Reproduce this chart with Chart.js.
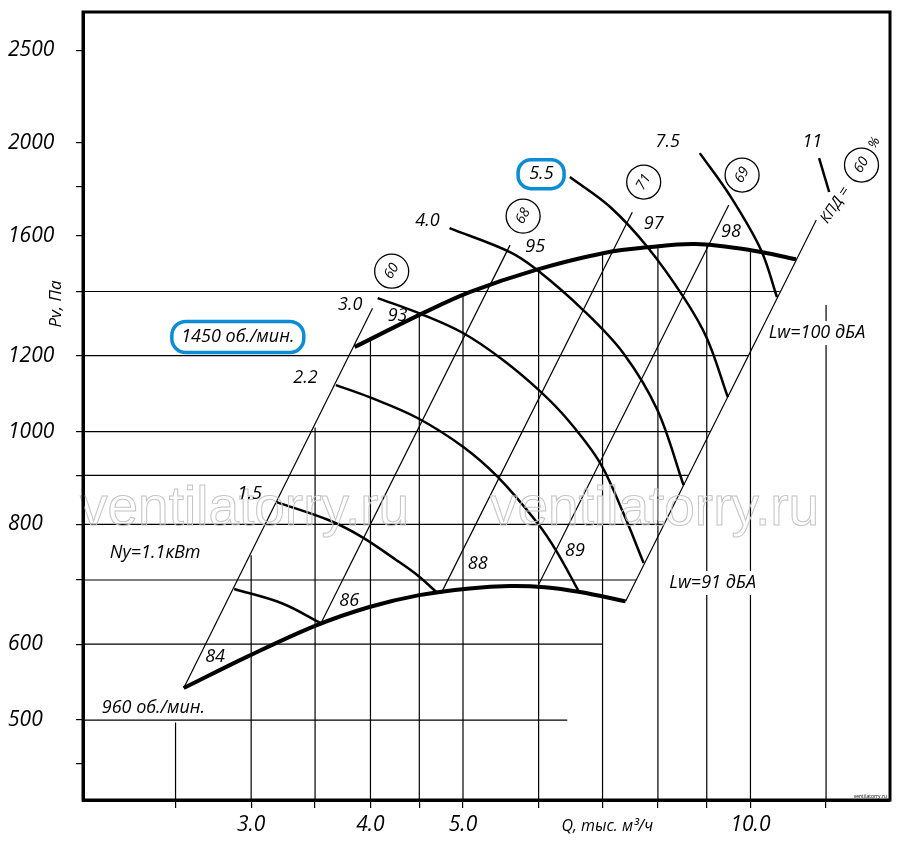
<!DOCTYPE html>
<html>
<head>
<meta charset="utf-8">
<title>Fan curve</title>
<script src="https://cdn.jsdelivr.net/npm/chart.js@4.4.0/dist/chart.umd.min.js"></script>
<style>
  html, body { margin: 0; padding: 0; background: #fff; }
  #wrap { width: 900px; height: 856px; }
</style>
</head>
<body>
<div id="wrap"><canvas id="fan-chart" width="900" height="856"></canvas></div>
<script>
// axes (Q thousand m3/h, Pv Pa), both logarithmic
const Q_MIN = 2;
const Q_MAX = 14;
const P_MIN = 412.6;
const P_MAX = 2740;

const xTicks = [2.5, 3, 3.5, 4, 4.5, 5, 6, 7, 8, 9, 10, 12];
const xTickLabels = ["", "3.0", "", "4.0", "", "5.0", "", "", "", "", "10.0", ""];
const yTicks = [450, 500, 600, 700, 800, 900, 1000, 1200, 1400, 1600, 1800, 2000, 2500];
const yTickLabels = ["", "500", "600", "", "800", "", "1000", "1200", "", "1600", "", "2000", "2500"];

// partial grid: horizontal lines end on the right boundary line
const gridP = [500, 600, 700, 800, 900, 1000, 1200, 1400];
const gridPEndQ = [6.43, 7.0, 7.59, 8.11, 8.6, 9.07, 9.94, 10.73];
// vertical lines run from the bottom up to the 1450 rpm curve
const gridQ = [2.5, 3, 3.5, 4, 4.5, 5, 6, 7, 8, 9, 10, 12];
const gridQTopP = [497, 743, 1010, 1250, 1331, 1388, 1474, 1530, 1558, 1567, 1546, 1355];

// speed curves
const q960 = [2.55, 2.98, 3.5, 3.99, 4.5, 5.08, 5.6, 6.09, 6.63, 7.4];
const p960 = [540, 583, 627, 656, 675, 686, 690, 688, 680, 665];
const q1450 = [3.85, 4.54, 5.08, 5.95, 7.01, 7.86, 8.76, 10.01, 11.16];
const p1450 = [1225, 1329, 1398, 1474, 1535, 1558, 1569, 1546, 1513];

// motor power curves, kW
const qN11 = [2.88, 3.23, 3.55];
const pN11 = [685, 662, 631];
const qN15 = [3.19, 3.62, 3.92, 4.26, 4.48, 4.69];
const pN15 = [844, 808, 776, 734, 708, 680];
const qN22 = [3.68, 3.99, 4.48, 5.0, 5.44, 5.98, 6.27, 6.6];
const pN22 = [1118, 1086, 1033, 964, 896, 803, 749, 683];
const qN30 = [4.07, 4.52, 5.0, 5.51, 6.02, 6.44, 6.96, 7.36, 7.73];
const pN30 = [1378, 1326, 1267, 1187, 1102, 1028, 927, 822, 729];
const qN40 = [4.84, 5.6, 5.98, 6.68, 7.36, 7.99, 8.51];
const pN40 = [1630, 1539, 1474, 1339, 1207, 1053, 879];
const qN55 = [6.47, 7.13, 7.8, 8.51, 9.0, 9.47];
const pN55 = [1843, 1715, 1558, 1381, 1252, 1086];
const qN75 = [8.85, 9.54, 10.26, 10.66];
const pN75 = [1952, 1756, 1546, 1381];
const qN110 = [11.8, 12.09];
const pN110 = [1929, 1778];

// proportional (P ~ Q^2) lines: low end, high end
const diagQLow = [2.55, 3.55, 4.74, 5.99, 7.4];
const diagPLow = [540, 631, 677, 690, 665];
const diagQHigh = [4.02, 5.6, 7.52, 9.49, 11.72];
const diagPHigh = [1345, 1565, 1694, 1723, 1662];

// labels
const powerLabels = ["1.5", "2.2", "3.0", "4.0", "5.5", "7.5", "11"];
const powerLabelQ = [2.99, 3.42, 3.81, 4.59, 6.04, 8.19, 11.61];
const powerLabelP = [860, 1137, 1355, 1658, 1856, 2005, 2005];
const noiseLabels = ["84", "86", "88", "89", "93", "95", "97", "98"];
const noiseLabelQ = [2.75, 3.8, 5.18, 6.55, 4.27, 5.95, 7.92, 9.54];
const noiseLabelP = [582, 665, 727, 751, 1320, 1558, 1646, 1615];
const effLabels = ["60", "68", "71", "69", "60"];
const effLabelQ = [4.21, 5.78, 7.73, 9.8, 13.07];
const effLabelP = [1470, 1678, 1821, 1852, 1897];

const FONT = "'Open Sans', 'DejaVu Sans', sans-serif";
const BLUE = "#0b8cd6";

const lineSet = (qs, ps, width, smooth) => ({
  data: qs.map((q, i) => ({ x: q, y: ps[i] })),
  showLine: true,
  borderColor: "#000",
  borderWidth: width,
  pointRadius: 0,
  fill: false,
  tension: smooth ? 0.35 : 0,
});

const datasets = [
  lineSet(q960, p960, 4, true),
  lineSet(q1450, p1450, 4, true),
  lineSet(qN11, pN11, 2.5, true),
  lineSet(qN15, pN15, 2.5, true),
  lineSet(qN22, pN22, 2.5, true),
  lineSet(qN30, pN30, 2.5, true),
  lineSet(qN40, pN40, 2.5, true),
  lineSet(qN55, pN55, 2.5, true),
  lineSet(qN75, pN75, 2.5, true),
  lineSet(qN110, pN110, 2.5, false),
];
diagQLow.forEach((q, i) => {
  datasets.push(lineSet([q, diagQHigh[i]], [diagPLow[i], diagPHigh[i]], 1.2, false));
});
gridP.forEach((p, i) => {
  datasets.push(lineSet([Q_MIN, gridPEndQ[i]], [p, p], 1.2, false));
});
gridQ.forEach((q, i) => {
  datasets.push(lineSet([q, q], [P_MIN, gridQTopP[i]], 1.2, false));
});

function roundBox(ctx, cx, cy, w, h, r) {
  const x = cx - w / 2;
  const y = cy - h / 2;
  ctx.beginPath();
  ctx.moveTo(x + r, y);
  ctx.lineTo(x + w - r, y);
  ctx.arc(x + w - r, y + r, r, -Math.PI / 2, 0);
  ctx.lineTo(x + w, y + h - r);
  ctx.arc(x + w - r, y + h - r, r, 0, Math.PI / 2);
  ctx.lineTo(x + r, y + h);
  ctx.arc(x + r, y + h - r, r, Math.PI / 2, Math.PI);
  ctx.lineTo(x, y + r);
  ctx.arc(x + r, y + r, r, Math.PI, Math.PI * 1.5);
  ctx.closePath();
}

function drawText(ctx, str, x, y, size, angle) {
  ctx.save();
  ctx.translate(x, y);
  if (angle) ctx.rotate(angle);
  ctx.font = "italic " + size + "px " + FONT;
  ctx.textAlign = "center";
  ctx.textBaseline = "middle";
  ctx.fillStyle = "#000";
  ctx.fillText(str, 0, 0);
  ctx.restore();
}

const decorPlugin = {
  id: "fanDecor",
  afterDatasetsDraw(chart) {
    const { ctx, chartArea: area, scales } = chart;
    const px = (q) => scales.x.getPixelForValue(q);
    const py = (p) => scales.y.getPixelForValue(p);
    const rot = (-60 * Math.PI) / 180;

    // watermark
    ctx.save();
    ctx.font = "55px 'Liberation Sans', Arial, sans-serif";
    ctx.strokeStyle = "#c4c4c4";
    ctx.lineWidth = 1;
    ctx.textBaseline = "alphabetic";
    ctx.strokeText("ventilatorry.ru", area.left - 3, 525);
    ctx.strokeText("ventilatorry.ru", 490, 525);
    ctx.restore();

    powerLabels.forEach((t, i) => drawText(ctx, t, px(powerLabelQ[i]), py(powerLabelP[i]), 18));
    noiseLabels.forEach((t, i) => drawText(ctx, t, px(noiseLabelQ[i]), py(noiseLabelP[i]), 18));

    // efficiency circles
    effLabels.forEach((t, i) => {
      const cx = px(effLabelQ[i]);
      const cy = py(effLabelP[i]);
      ctx.beginPath();
      ctx.arc(cx, cy, 17, 0, Math.PI * 2);
      ctx.fillStyle = "#fff";
      ctx.fill();
      ctx.lineWidth = 1.3;
      ctx.strokeStyle = "#000";
      ctx.stroke();
      drawText(ctx, t, cx, cy, 14, rot);
    });
    drawText(ctx, "КПД =", px(12.27), py(1723), 15, (-56 * Math.PI) / 180);
    drawText(ctx, "%", px(13.48), py(2000), 13, rot);

    drawText(ctx, "Ny=1.1кВт", px(2.38), py(747), 18);
    drawText(ctx, "960 об./мин.", px(2.37), py(515), 18);

    // blue boxed labels
    const sx = px(2.905);
    const sy = py(1255);
    roundBox(ctx, sx, sy, 132, 31, 14);
    ctx.fillStyle = "#fff";
    ctx.fill();
    ctx.lineWidth = 3.5;
    ctx.strokeStyle = BLUE;
    ctx.stroke();
    drawText(ctx, "1450 об./мин.", sx, sy, 18);
    // 5.5 box goes around the power label already placed
    roundBox(ctx, px(6.036), py(1856), 46, 29, 13);
    ctx.lineWidth = 3.5;
    ctx.strokeStyle = BLUE;
    ctx.stroke();

    // sound power labels on white
    [["Lw=91 дБА", 9.13, 695], ["Lw=100 дБА", 11.74, 1267]].forEach(([t, q, p]) => {
      const cx = px(q);
      const cy = py(p);
      ctx.font = "italic 18px " + FONT;
      const w = ctx.measureText(t).width;
      ctx.fillStyle = "#fff";
      ctx.fillRect(cx - w / 2 - 2, cy - 12, w + 4, 24);
      drawText(ctx, t, cx, cy, 18);
    });

    // axis titles
    drawText(ctx, "Pv, Па", 56, 304, 17, -Math.PI / 2);
    drawText(ctx, "Q, тыс. м³/ч", px(7.08), area.bottom + 26, 16);

    ctx.save();
    ctx.font = "5px " + FONT;
    ctx.fillStyle = "#000";
    ctx.textAlign = "right";
    ctx.fillText("ventilatorry.ru", area.right - 3, area.bottom - 2);
    ctx.restore();
  },
  afterDraw(chart) {
    const { ctx, chartArea: area } = chart;
    ctx.save();
    ctx.lineWidth = 3;
    ctx.strokeStyle = "#000";
    ctx.strokeRect(area.left, area.top, area.right - area.left, area.bottom - area.top);
    ctx.restore();
  },
};

const noEdgePadding = (axis) => {
  axis.paddingTop = 0;
  axis.paddingBottom = 0;
  axis.paddingLeft = 0;
  axis.paddingRight = 0;
};

new Chart(document.getElementById("fan-chart").getContext("2d"), {
  type: "scatter",
  data: { datasets },
  options: {
    responsive: false,
    animation: false,
    layout: { padding: { left: 8, right: 10, top: 12, bottom: 0 } },
    plugins: { legend: { display: false }, tooltip: { enabled: false } },
    scales: {
      x: {
        type: "logarithmic",
        position: "bottom",
        min: Q_MIN,
        max: Q_MAX,
        afterBuildTicks: (axis) => {
          axis.ticks = xTicks.map((v) => ({ value: v }));
        },
        afterFit: (axis) => {
          axis.height = 56;
          noEdgePadding(axis);
        },
        grid: { drawOnChartArea: false, drawTicks: true, tickLength: 8, color: "#000", lineWidth: 1.2 },
        border: { display: true, color: "#000", width: 3 },
        ticks: {
          autoSkip: false,
          maxRotation: 0,
          padding: 4,
          color: "#000",
          font: { family: FONT, size: 21, style: "italic" },
          callback: (value, index) => xTickLabels[index],
        },
      },
      y: {
        type: "logarithmic",
        position: "left",
        min: P_MIN,
        max: P_MAX,
        afterBuildTicks: (axis) => {
          axis.ticks = yTicks.map((v) => ({ value: v }));
        },
        afterFit: (axis) => {
          axis.width = 75;
          noEdgePadding(axis);
        },
        grid: { drawOnChartArea: false, drawTicks: true, tickLength: 7, color: "#000", lineWidth: 1.2 },
        border: { display: true, color: "#000", width: 3 },
        ticks: {
          autoSkip: false,
          crossAlign: "far",
          color: "#000",
          font: { family: FONT, size: 21, style: "italic" },
          callback: (value, index) => yTickLabels[index],
        },
      },
    },
  },
  plugins: [decorPlugin],
});
</script>
</body>
</html>
